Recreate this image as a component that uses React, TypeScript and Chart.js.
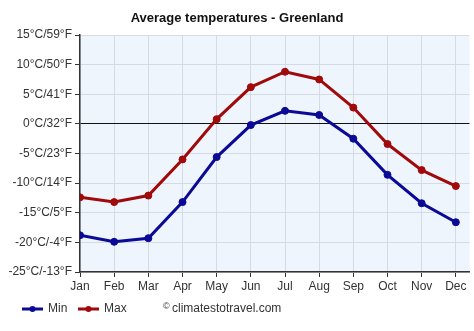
import React, { useEffect, useRef } from "react";
import { Chart, registerables } from "chart.js";

Chart.register(...registerables);

const months = ["Jan", "Feb", "Mar", "Apr", "May", "Jun", "Jul", "Aug", "Sep", "Oct", "Nov", "Dec"];
const minTemps = [-18.8, -19.9, -19.3, -13.2, -5.6, -0.2, 2.2, 1.5, -2.5, -8.6, -13.4, -16.6];
const maxTemps = [-12.4, -13.2, -12.1, -6.0, 0.8, 6.2, 8.8, 7.5, 2.75, -3.4, -7.8, -10.5];
const title = "Average temperatures - Greenland";
const seriesNames = ["Min", "Max"];
const seriesColors = ["#0a0a96", "#a00a0a"];
const yMin = -25;
const yMax = 15;
const yStep = 5;

const FONT = "Arial, 'Liberation Sans', sans-serif";

export default function App() {
  const ref = useRef<HTMLCanvasElement | null>(null);

  useEffect(() => {
    document.body.style.margin = "0";
    const canvas = ref.current!;
    const decor = {
      id: "decor",
      beforeDraw(chart: any) {
        const { ctx, chartArea } = chart;
        ctx.save();
        ctx.fillStyle = "#eef5fd";
        ctx.fillRect(chartArea.left, chartArea.top, chartArea.right - chartArea.left, chartArea.bottom - chartArea.top);
        ctx.restore();
      },
      afterDraw(chart: any) {
        const { ctx } = chart;
        ctx.save();
        ctx.fillStyle = "#111";
        ctx.font = "bold 13px " + FONT;
        ctx.textAlign = "center";
        ctx.textBaseline = "middle";
        ctx.fillText(title, 237, 18);
        // legend
        const ly = 309;
        const items = [
          { x: 22, name: seriesNames[0], color: seriesColors[0] },
          { x: 78, name: seriesNames[1], color: seriesColors[1] },
        ];
        ctx.font = "12px " + FONT;
        ctx.textAlign = "left";
        for (const it of items) {
          ctx.strokeStyle = it.color;
          ctx.lineWidth = 3;
          ctx.beginPath();
          ctx.moveTo(it.x, ly);
          ctx.lineTo(it.x + 21, ly);
          ctx.stroke();
          ctx.fillStyle = it.color;
          ctx.beginPath();
          ctx.arc(it.x + 10.5, ly, 3, 0, Math.PI * 2);
          ctx.fill();
          ctx.fillStyle = "#333";
          ctx.fillText(it.name, it.x + 26, ly);
        }
        ctx.font = "9px " + FONT;
        ctx.fillText("©", 163, ly - 2);
        ctx.font = "12px " + FONT;
        ctx.fillText("climatestotravel.com", 172, ly);
        ctx.restore();
      },
    };

    const ds = (i: number, values: number[]) => ({
      label: seriesNames[i],
      data: values.map((v, k) => ({ x: k, y: v })),
      borderColor: seriesColors[i],
      backgroundColor: seriesColors[i],
      borderWidth: 3,
      pointRadius: 3.5,
      pointBorderWidth: 1,
      pointHoverRadius: 3.5,
      tension: 0,
    });

    const chart = new Chart(canvas, {
      type: "line",
      data: { datasets: [ds(0, minTemps), ds(1, maxTemps)] },
      options: {
        responsive: false,
        animation: false,
        layout: { padding: { top: 35, right: -2, left: 0, bottom: 0 } },
        plugins: { legend: { display: false }, title: { display: false }, tooltip: { enabled: false } },
        scales: {
          x: {
            type: "linear",
            min: 0,
            max: 11.4,
            afterBuildTicks(scale: any) {
              scale.ticks = months.map((_, i) => ({ value: i }));
            },
            afterFit(scale: any) {
              scale.height = 59;
              scale.paddingLeft = 0;
              scale.paddingRight = 0;
            },
            ticks: {
              callback: (v: any) => months[Math.round(Number(v))] ?? "",
              color: "#333",
              font: { family: FONT, size: 12 },
              padding: 2,
              maxRotation: 0,
              autoSkip: false,
            },
            grid: { color: "#d5dbe4", tickColor: "#333", tickLength: 5, lineWidth: 1 },
            border: { color: "#333", width: 1.5 },
          },
          y: {
            min: yMin,
            max: yMax,
            ticks: {
              stepSize: yStep,
              callback: (v: any) => {
                const c = Number(v);
                const f = Math.round((c * 9) / 5 + 32);
                return `${c}°C/${f}°F`;
              },
              color: "#333",
              font: { family: FONT, size: 12 },
              padding: 3,
            },
            afterFit(scale: any) {
              scale.width = 80;
              scale.paddingTop = 0;
              scale.paddingBottom = 0;
            },
            grid: {
              color: (c: any) => (c.tick && c.tick.value === 0 ? "#111" : "#d5dbe4"),
              tickColor: "#333",
              tickLength: 5,
              lineWidth: 1,
            },
            border: { color: "#333", width: 1.5 },
          },
        },
      },
      plugins: [decor],
    } as any);
    return () => chart.destroy();
  }, []);

  return <canvas ref={ref} width={474} height={331} style={{ display: "block" }} />;
}
